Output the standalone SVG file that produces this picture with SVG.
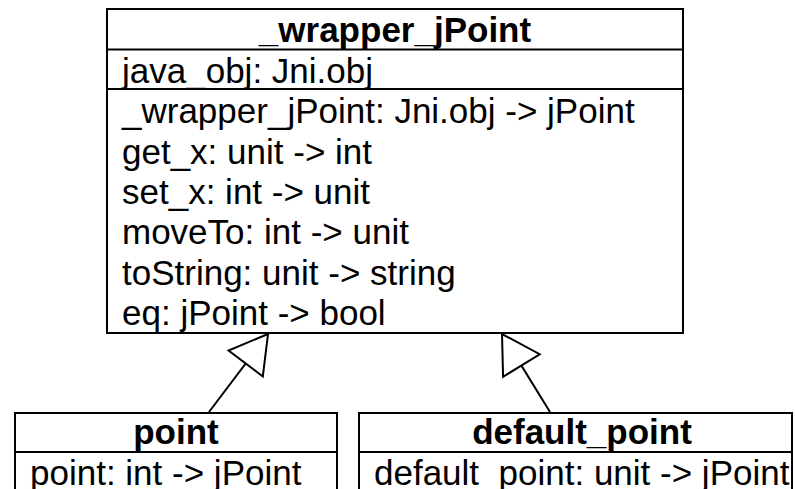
<svg xmlns="http://www.w3.org/2000/svg" width="795" height="489" viewBox="0 0 795 489">
<style>
.box{fill:#fff;stroke:#000;stroke-width:2}
.sep{stroke:#000;stroke-width:2}
.t{font-family:"Liberation Sans",Arial,Helvetica,sans-serif;font-size:35px;fill:#000}
.b{font-weight:bold;text-anchor:middle}
.edge{stroke:#000;stroke-width:2;fill:none;marker-end:url(#inh)}
</style>
<defs>
<marker id="inh" markerUnits="userSpaceOnUse" viewBox="-2 -24 41 48" markerWidth="41" markerHeight="48" refX="37" refY="0" orient="auto">
<path d="M37 0 L0 -21.5 L0 21.5 Z" fill="#fff" stroke="#000" stroke-width="2" stroke-linejoin="miter"/>
</marker>
</defs>
<rect width="795" height="489" fill="#fff"/>
<g id="wrapper_jPoint">
<rect class="box" x="107" y="9" width="576" height="324"/>
<line class="sep" x1="107" y1="49.5" x2="683" y2="49.5"/>
<line class="sep" x1="107" y1="89" x2="683" y2="89"/>
<text class="t b" x="395" y="42">_wrapper_jPoint</text>
<text class="t" x="122" y="83">java_obj: Jni.obj</text>
<text class="t" x="122" y="123">_wrapper_jPoint: Jni.obj -&gt; jPoint</text>
<text class="t" x="122" y="163.5">get_x: unit -&gt; int</text>
<text class="t" x="122" y="204">set_x: int -&gt; unit</text>
<text class="t" x="122" y="244">moveTo: int -&gt; unit</text>
<text class="t" x="122" y="284.5">toString: unit -&gt; string</text>
<text class="t" x="122" y="325">eq: jPoint -&gt; bool</text>
</g>
<g id="point">
<rect class="box" x="15" y="413" width="322" height="100"/>
<line class="sep" x1="15" y1="452" x2="337" y2="452"/>
<text class="t b" x="176" y="444">point</text>
<text class="t" x="30" y="485">point: int -&gt; jPoint</text>
</g>
<g id="default_point">
<rect class="box" x="359" y="413" width="433" height="100"/>
<line class="sep" x1="359" y1="452" x2="792" y2="452"/>
<text class="t b" x="582" y="444">default_point</text>
<text class="t" x="374" y="485">default_point: unit -&gt; jPoint</text>
</g>
<g id="connectors">
<line class="edge" x1="209" y1="412" x2="268" y2="334"/>
<line class="edge" x1="550" y1="412" x2="502" y2="334"/>
</g>
</svg>
